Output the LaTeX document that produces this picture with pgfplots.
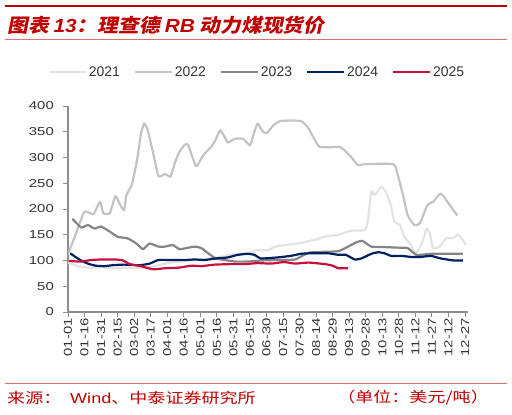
\documentclass[border=0pt]{standalone}
\usepackage{pgfplots}
\pgfplotsset{compat=1.18}
\usepackage{fontspec}
\setmainfont{Liberation Sans}
\newfontfamily\tickfont[FakeStretch=1.3]{Liberation Sans}
\newfontfamily\titlelat[FakeStretch=1.1]{Liberation Sans}
\newfontfamily\cjktitle[FakeSlant=0.2,FakeStretch=1.1]{Noto Sans CJK SC}
\newfontfamily\cjkfoot[FakeStretch=1.25]{Noto Sans CJK SC}
\newfontfamily\latfoot[FakeStretch=1.25]{Liberation Sans}

\definecolor{hdred}{HTML}{C00000}
\definecolor{lnred}{HTML}{E07070}
\definecolor{c21}{HTML}{E3E3E3}
\definecolor{c22}{HTML}{C3C3C3}
\definecolor{c23}{HTML}{858585}
\definecolor{c24}{HTML}{002060}
\definecolor{c25}{HTML}{C8103A}
\definecolor{axgray}{HTML}{8C8C8C}
\definecolor{txgray}{HTML}{333333}

\begin{document}
\begin{tikzpicture}[x=1bp,y=1bp]
\useasboundingbox (-68,-102) rectangle (444,312);

% header
\draw[hdred, line width=2.5bp] (-63,306) -- (439,306);
\node[anchor=west, text=hdred, inner sep=0pt] at (-61,287)
  {\fontsize{19}{21}\selectfont\cjktitle\bfseries 图表 {\titlelat\bfseries\itshape 13}：理查德 {\titlelat\bfseries\itshape RB} 动力煤现货价};
\draw[lnred, line width=0.8bp] (-63,272.5) -- (439,272.5);

\begin{axis}[
    at={(0,0)}, anchor=south west,
    scale only axis,
    width=400bp, height=206bp,
    xmin=0, xmax=362.7,
    ymin=0, ymax=400,
    axis x line*=bottom, axis y line*=left,
    axis line style={axgray, line width=1.2bp, -},
    tick style={axgray, line width=1bp},
    tick align=outside,
    major tick length=5bp,
    xtick={0,15,...,360},
    xticklabels={01-01,01-16,01-31,02-15,03-02,03-17,04-01,04-16,05-01,05-16,05-31,06-15,06-30,07-15,07-30,08-14,08-29,09-13,09-28,10-13,10-28,11-12,11-27,12-12,12-27},
    ytick={0,50,...,400},
    /pgf/number format/assume math mode=true,
    ticklabel style={font=\tickfont\fontsize{11.5}{13}\selectfont, text=txgray},
    xticklabel style={rotate=90, anchor=east, inner sep=1bp, yshift=0bp},
    yticklabel style={inner sep=1bp, xshift=-8bp},
    legend style={at={(0.4725,1.165)}, anchor=center, draw=none, fill=none,
        legend columns=-1, font=\fontsize{14}{16}\selectfont, text=txgray,
        /tikz/every even column/.append style={column sep=12bp},
        nodes={inner sep=2bp}},
    legend image code/.code={\draw[#1, line width=2bp] (0bp,0bp) -- (37bp,0bp);},
    every axis plot/.append style={line width=2.2bp, line join=round, smooth, tension=0.3},
]

\addplot[c21] coordinates {
(0,95)(5,92)(10,88)(20,86)(30,87)(40,85)(50,86)(60,85)(70,86)(80,90)(90,95)(100,98)(110,100)(120,102)(130,104)(140,108)(150,112)(163,114)(172,120)(181,120)(190,128)(208,133)(217,137)(226,141)(232,146)(245,150)(257,158)(269,159)(272,179)(275,234)(278,227)(284,243)(288,234)(293,205)(296,175)(301,169)(305,146)(310,133)(314,117)(317,117)(322,140)(325,162)(328,153)(331,124)(337,127)(343,143)(349,143)(354,150)(361,130)
};
\addlegendentry{2021}

\addplot[c22] coordinates {
(0,112)(5,140)(9,163)(15,195)(23,190)(29,214)(32,192)(38,192)(43,225)(48,205)(51,198)(53,227)(58,248)(63,300)(66,345)(69,366)(72,355)(76,320)(82,264)(88,268)(93,263)(97,290)(101,311)(106,325)(109,324)(116,283)(120,295)(124,308)(130,321)(134,335)(138,353)(142,340)(145,329)(150,335)(154,337)(159,336)(165,324)(169,350)(172,366)(176,352)(180,347)(186,362)(193,371)(211,371)(218,357)(228,321)(247,320)(257,300)(263,285)(269,287)(295,287)(299,266)(304,225)(308,188)(314,169)(319,172)(326,208)(331,214)(338,230)(346,208)(353,187)
};
\addlegendentry{2022}

\addplot[c23] coordinates {
(4,181)(12,164)(18,169)(24,162)(30,166)(38,156)(45,146)(54,143)(62,133)(68,122)(74,133)(82,127)(88,127)(95,130)(101,122)(107,124)(115,127)(121,124)(127,114)(134,104)(142,101)(151,98)(163,98)(175,100)(190,101)(206,102)(218,115)(233,117)(245,118)(254,127)(261,135)(267,138)(275,127)(287,126)(299,125)(308,124)(316,111)(329,113)(342,113)(358,113)
};
\addlegendentry{2023}

\addplot[c24] coordinates {
(2,114)(11,101)(18,94)(25,90)(33,89)(41,91)(51,92)(61,91)(66,91)(74,94)(82,101)(93,101)(106,101)(115,102)(124,101)(134,104)(145,106)(154,111)(163,113)(169,111)(175,104)(190,106)(202,109)(211,113)(220,114)(236,114)(245,111)(252,111)(260,102)(266,104)(275,113)(281,116)(287,114)(293,109)(302,109)(311,107)(320,107)(329,109)(338,104)(350,100)(358,100)
};
\addlegendentry{2024}

\addplot[c25] coordinates {
(1,99)(12,98)(21,101)(30,102)(43,102)(50,100)(56,93)(66,89)(77,83)(88,85)(100,86)(112,90)(121,89)(133,92)(148,93)(160,93)(172,95)(184,94)(196,97)(206,94)(218,96)(233,93)(240,90)(245,85)(254,85)
};
\addlegendentry{2025}

\end{axis}

% footer
\draw[lnred, line width=0.8bp] (-63,-71) -- (439,-71);
\node[anchor=west, text=hdred, inner sep=0pt] at (-61,-86)
  {\fontsize{14.5}{16}\selectfont\cjkfoot 来源：};
\node[anchor=west, text=hdred, inner sep=0pt] at (2,-86)
  {\fontsize{14.5}{16}\selectfont{\latfoot Wind}\cjkfoot 、中泰证券研究所};
\node[anchor=east, text=hdred, inner sep=0pt] at (421,-86)
  {\fontsize{14.5}{16}\selectfont\cjkfoot （单位：美元/吨）};
\end{tikzpicture}
\end{document}
